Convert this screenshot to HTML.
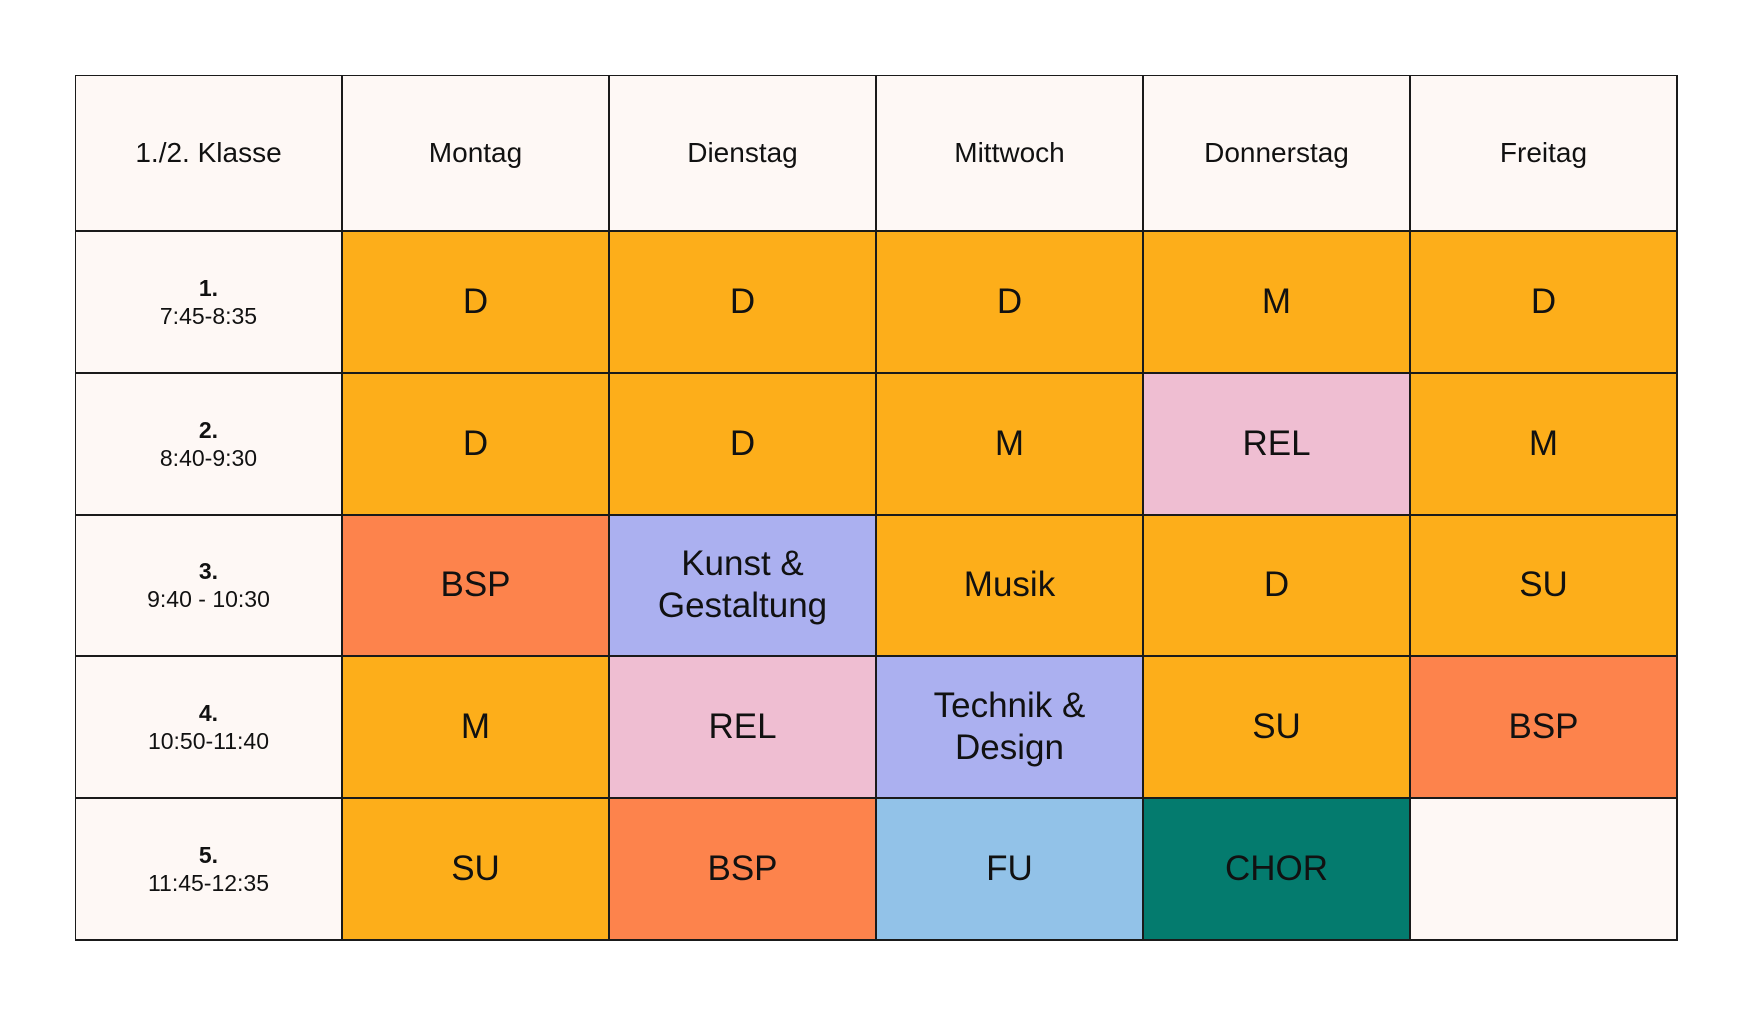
<!DOCTYPE html>
<html><head><meta charset="utf-8"><style>
html,body{margin:0;padding:0;background:#fff;}
body{width:1754px;height:1016px;position:relative;overflow:hidden;font-family:"Liberation Sans",sans-serif;color:#111;}
.cell{position:absolute;box-sizing:border-box;display:flex;align-items:center;justify-content:center;text-align:center;border:1px solid #1a1a1a;}
.hd{font-size:28px;}
.tm{font-size:23px;line-height:28px;}
.tm b{font-weight:bold;}
.sub{font-size:35px;line-height:42px;}
#tbl{position:absolute;left:75px;top:75px;width:1603px;height:866px;border:1px solid #1a1a1a;box-sizing:border-box;}
</style></head><body>
<div id="tbl"></div>
<script>
const days = ["1./2. Klasse","Montag","Dienstag","Mittwoch","Donnerstag","Freitag"];
const periods = ["<b>1.</b><br>7:45-8:35","<b>2.</b><br>8:40-9:30","<b>3.</b><br>9:40 - 10:30","<b>4.</b><br>10:50-11:40","<b>5.</b><br>11:45-12:35"];
const row1 = ["D","D","D","M","D"];
const row2 = ["D","D","M","REL","M"];
const row3 = ["BSP","Kunst &amp;<br>Gestaltung","Musik","D","SU"];
const row4 = ["M","REL","Technik &amp;<br>Design","SU","BSP"];
const row5 = ["SU","BSP","FU","CHOR",""];
const colors = {"D":"#FDAE1A","M":"#FDAE1A","SU":"#FDAE1A","Musik":"#FDAE1A","REL":"#EFBED2","BSP":"#FD834C","FU":"#92C2E8","CHOR":"#047B6E","":"#FEF8F5"};
const lav = "#ABB0F0";
const rows=[row1,row2,row3,row4,row5];
const tbl=document.getElementById('tbl');
const X0=0, CW=267, HH=156, RH=141.8;
function colX(c){return X0+c*CW;}
function rowY(r){return HH+r*RH;}
function mk(x,y,w,h,html,bg,cls,name){
  const d=document.createElement('div');
  d.className='cell '+cls;
  d.style.left=x+'px';d.style.top=y+'px';d.style.width=w+'px';d.style.height=h+'px';
  d.style.background=bg;
  const s=document.createElement('span');
  s.innerHTML=html;
  d.appendChild(s);
  
  
  tbl.appendChild(d);
}
days.forEach((t,i)=>mk(colX(i)-1,-1,CW,HH,t,"#FEF8F5","hd",i==0?"class-header":"day-header-"+t.toLowerCase()));
periods.forEach((t,r)=>mk(-1,rowY(r)-1,CW,RH,t,"#FEF8F5","tm","period-"+(r+1)));
rows.forEach((row,r)=>row.forEach((s,c)=>{
  let bg = colors[s]!==undefined?colors[s]:lav;
  mk(colX(c+1)-1,rowY(r)-1,CW,RH,s,bg,"sub","lesson-r"+(r+1)+"-c"+(c+1));
}));
</script>
</body></html>
